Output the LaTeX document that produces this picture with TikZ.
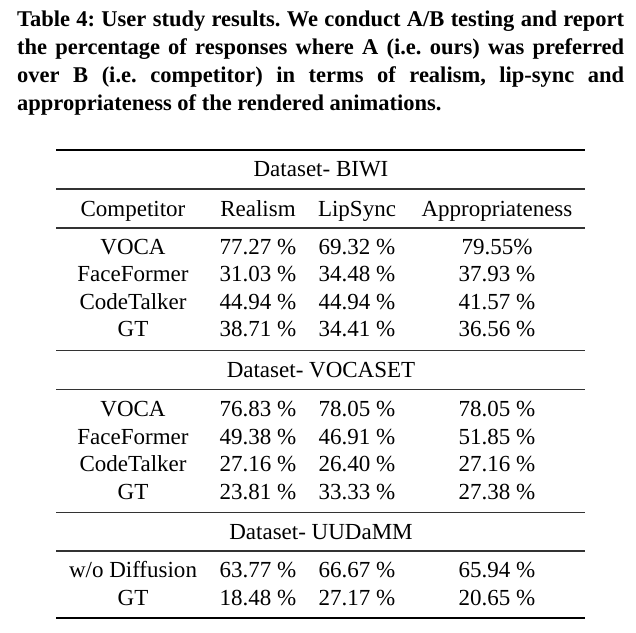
\documentclass[tikz,border=0pt]{standalone}
\usepackage{fontspec}
\setmainfont{Liberation Serif}
\frenchspacing
\begin{document}
\begin{tikzpicture}[x=1pt,y=-1pt,
  cell/.style={anchor=base,inner sep=0pt,font=\fontsize{23}{27}\selectfont},
  captext/.style={anchor=base west,inner sep=0pt,font=\bfseries\fontsize{22.5}{28}\selectfont\frenchspacing},
  heavy/.style={line width=1.8pt,black},
  light/.style={line width=1.1pt,black!80}]
\useasboundingbox[fill=white] (0,0) rectangle (636,632);

% caption
\node[captext] (cap1) at (17,26) {\makebox[607pt][s]{Table 4: User study results. We conduct A/B testing and report}};
\node[captext] (cap2) at (17,54) {\makebox[607pt][s]{the percentage of responses where A (i.e. ours) was preferred}};
\node[captext] (cap3) at (17,82) {\makebox[607pt][s]{over B (i.e. competitor) in terms of realism, lip-sync and}};
\node[captext] (cap4) at (17,110) {appropriateness of the rendered animations.};

% rules
\draw[heavy] (56,149.7) -- (585,149.7);
\draw[light] (56,189) -- (585,189);
\draw[light] (56,228) -- (585,228);
\draw[light] (56,350.7) -- (585,350.7);
\draw[light] (56,389.3) -- (585,389.3);
\draw[light] (56,512.3) -- (585,512.3);
\draw[light] (56,551) -- (585,551);
\draw[heavy] (56,617.7) -- (585,617.7);

% group titles
\node[cell] (g1) at (321,176.5) {Dataset- BIWI};
\node[cell] (g2) at (321,377.3) {Dataset- VOCASET};
\node[cell] (g3) at (321,539.3) {Dataset- UUDaMM};

% header
\node[cell] (h1) at (133,216) {Competitor};
\node[cell] (h2) at (258,216) {Realism};
\node[cell] (h3) at (357,216) {LipSync};
\node[cell] (h4) at (497,216) {Appropriateness};

% BIWI
\node[cell] (a11) at (133,254) {VOCA};
\node[cell] (a12) at (258,254) {77.27 \%};
\node[cell] (a13) at (357,254) {69.32 \%};
\node[cell] (a14) at (497,254) {79.55\%};
\node[cell] (a21) at (133,281.7) {FaceFormer};
\node[cell] (a22) at (258,281.7) {31.03 \%};
\node[cell] (a23) at (357,281.7) {34.48 \%};
\node[cell] (a24) at (497,281.7) {37.93 \%};
\node[cell] (a31) at (133,309.3) {CodeTalker};
\node[cell] (a32) at (258,309.3) {44.94 \%};
\node[cell] (a33) at (357,309.3) {44.94 \%};
\node[cell] (a34) at (497,309.3) {41.57 \%};
\node[cell] (a41) at (133,336.7) {GT};
\node[cell] (a42) at (258,336.7) {38.71 \%};
\node[cell] (a43) at (357,336.7) {34.41 \%};
\node[cell] (a44) at (497,336.7) {36.56 \%};

% VOCASET
\node[cell] (b11) at (133,416) {VOCA};
\node[cell] (b12) at (258,416) {76.83 \%};
\node[cell] (b13) at (357,416) {78.05 \%};
\node[cell] (b14) at (497,416) {78.05 \%};
\node[cell] (b21) at (133,444) {FaceFormer};
\node[cell] (b22) at (258,444) {49.38 \%};
\node[cell] (b23) at (357,444) {46.91 \%};
\node[cell] (b24) at (497,444) {51.85 \%};
\node[cell] (b31) at (133,471.7) {CodeTalker};
\node[cell] (b32) at (258,471.7) {27.16 \%};
\node[cell] (b33) at (357,471.7) {26.40 \%};
\node[cell] (b34) at (497,471.7) {27.16 \%};
\node[cell] (b41) at (133,499.3) {GT};
\node[cell] (b42) at (258,499.3) {23.81 \%};
\node[cell] (b43) at (357,499.3) {33.33 \%};
\node[cell] (b44) at (497,499.3) {27.38 \%};

% UUDaMM
\node[cell] (c11) at (133,577.3) {w/o Diffusion};
\node[cell] (c12) at (258,577.3) {63.77 \%};
\node[cell] (c13) at (357,577.3) {66.67 \%};
\node[cell] (c14) at (497,577.3) {65.94 \%};
\node[cell] (c21) at (133,605) {GT};
\node[cell] (c22) at (258,605) {18.48 \%};
\node[cell] (c23) at (357,605) {27.17 \%};
\node[cell] (c24) at (497,605) {20.65 \%};
\end{tikzpicture}
\end{document}
